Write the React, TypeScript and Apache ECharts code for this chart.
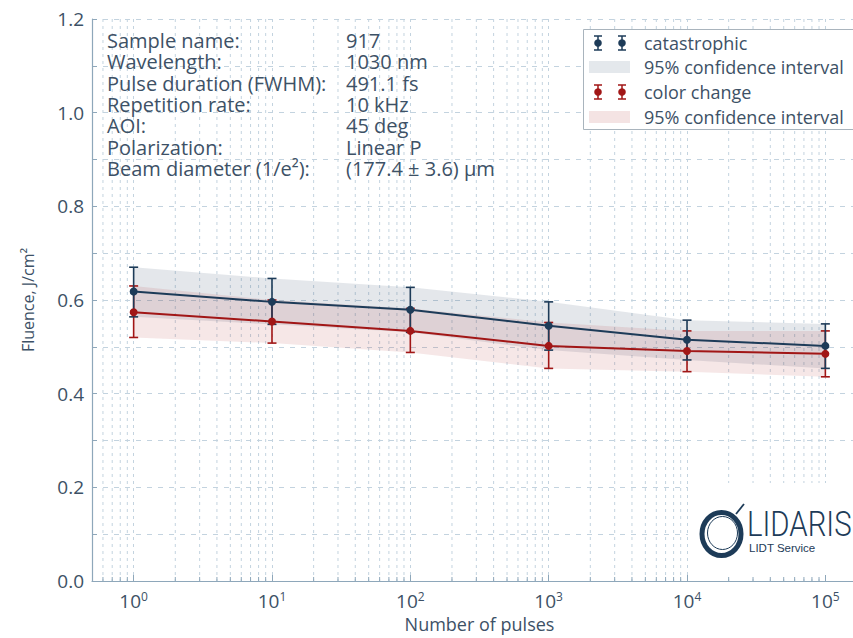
import React, { useEffect, useRef } from "react";
import * as echarts from "echarts";

// ---- data ----
const pulses = [1, 10, 100, 1000, 10000, 100000];
const catMean = [0.618, 0.596, 0.579, 0.545, 0.515, 0.502];
const catLow = [0.564, 0.548, 0.531, 0.493, 0.472, 0.454];
const catHigh = [0.670, 0.646, 0.627, 0.596, 0.557, 0.549];
const colMean = [0.574, 0.554, 0.534, 0.502, 0.491, 0.485];
const colLow = [0.520, 0.508, 0.488, 0.454, 0.447, 0.436];
const colHigh = [0.630, 0.600, 0.582, 0.552, 0.534, 0.534];
const minorXTicks = [
  0.6, 0.7, 0.8, 0.9,
  2, 3, 4, 5, 6, 7, 8, 9,
  20, 30, 40, 50, 60, 70, 80, 90,
  200, 300, 400, 500, 600, 700, 800, 900,
  2000, 3000, 4000, 5000, 6000, 7000, 8000, 9000,
  20000, 30000, 40000, 50000, 60000, 70000, 80000, 90000,
];
const infoLabels = [
  "Sample name:",
  "Wavelength:",
  "Pulse duration (FWHM):",
  "Repetition rate:",
  "AOI:",
  "Polarization:",
  "Beam diameter (1/e²):",
];
const infoValues = ["917", "1030 nm", "491.1 fs", "10 kHz", "45 deg", "Linear P", "(177.4 ± 3.6) µm"];
const legendLabels = ["catastrophic", "95% confidence interval", "color change", "95% confidence interval"];

const NAVY = "#1d3b58";
const RED = "#a11616";
const TEXT = "#3d5166";
const AXIS = "#8ea7ba";
const GRID = "#c3d3df";
const FONT = "'Open Sans', 'DejaVu Sans', sans-serif";

function errRender(color: string) {
  return (params: any, api: any) => {
    const x = api.value(0);
    const lo = api.coord([x, api.value(1)]);
    const hi = api.coord([x, api.value(2)]);
    const cw = 4.5;
    const st = { stroke: color, lineWidth: 1.6 };
    return {
      type: "group",
      children: [
        { type: "line", shape: { x1: lo[0], y1: lo[1], x2: hi[0], y2: hi[1] }, style: st },
        { type: "line", shape: { x1: lo[0] - cw, y1: lo[1], x2: lo[0] + cw, y2: lo[1] }, style: st },
        { type: "line", shape: { x1: hi[0] - cw, y1: hi[1], x2: hi[0] + cw, y2: hi[1] }, style: st },
      ],
    };
  };
}

function bandRender(color: string) {
  return (params: any, api: any) => {
    if (params.dataIndexInside !== 0) return { type: "group", children: [] };
    const n = params.dataInsideLength;
    const top: number[][] = [];
    const bot: number[][] = [];
    for (let j = 0; j < n; j++) {
      const x = api.value(0, j);
      top.push(api.coord([x, api.value(2, j)]));
      bot.push(api.coord([x, api.value(1, j)]));
    }
    return {
      type: "polygon",
      shape: { points: top.concat(bot.reverse()) },
      style: { fill: color },
    };
  };
}

function legendGlyph(cx: number, cy: number, color: string) {
  const st = { stroke: color, lineWidth: 1.5 };
  return [
    { type: "line", z: 101, shape: { x1: cx, y1: cy - 7, x2: cx, y2: cy + 7 }, style: st },
    { type: "line", z: 101, shape: { x1: cx - 4, y1: cy - 7, x2: cx + 4, y2: cy - 7 }, style: st },
    { type: "line", z: 101, shape: { x1: cx - 4, y1: cy + 7, x2: cx + 4, y2: cy + 7 }, style: st },
    { type: "circle", z: 102, shape: { cx, cy, r: 3.8 }, style: { fill: color } },
  ];
}

export default function App() {
  const ref = useRef<HTMLDivElement>(null);
  useEffect(() => {
    if (!ref.current) return;
    const chart = echarts.init(ref.current, undefined, { renderer: "svg" });

    const graphics: any[] = [];
    graphics.push({
      type: "text", z: 100, x: 107, y: 29.5,
      style: { text: infoLabels.join("\n"), fill: TEXT, font: `20px ${FONT}`, lineHeight: 21.4, textVerticalAlign: "top" },
    });
    graphics.push({
      type: "text", z: 100, x: 346, y: 29.5,
      style: { text: infoValues.join("\n"), fill: TEXT, font: `20px ${FONT}`, lineHeight: 21.4, textVerticalAlign: "top" },
    });
    // legend
    graphics.push({
      type: "rect", z: 100, shape: { x: 583.5, y: 29.5, width: 280, height: 100 },
      style: { fill: "#ffffff", stroke: "#a9b4bd", lineWidth: 1 },
    });
    const rowsY = [43, 67, 92, 117];
    graphics.push(...legendGlyph(598, rowsY[0], NAVY), ...legendGlyph(622, rowsY[0], NAVY));
    graphics.push(...legendGlyph(598, rowsY[2], RED), ...legendGlyph(622, rowsY[2], RED));
    graphics.push({ type: "rect", z: 101, shape: { x: 589, y: rowsY[1] - 6, width: 41, height: 12 }, style: { fill: "#e4e8ec" } });
    graphics.push({ type: "rect", z: 101, shape: { x: 589, y: rowsY[3] - 6, width: 41, height: 12 }, style: { fill: "#f4e3e3" } });
    legendLabels.forEach((t, i) => {
      graphics.push({
        type: "text", z: 101, x: 644, y: rowsY[i],
        style: { text: t, fill: TEXT, font: `18px ${FONT}`, lineHeight: 22, textVerticalAlign: "middle" },
      });
    });
    // logo
    graphics.push({ type: "rect", z: 100, shape: { x: 688, y: 483, width: 180, height: 92 }, style: { fill: "#ffffff" } });
    graphics.push({ type: "ellipse", z: 101, shape: { cx: 721.5, cy: 534, rx: 19.5, ry: 21.5 }, style: { fill: "none", stroke: NAVY, lineWidth: 5 } });
    graphics.push({ type: "ellipse", z: 101, shape: { cx: 722.5, cy: 533, rx: 15, ry: 16.5 }, style: { fill: "none", stroke: NAVY, lineWidth: 1 } });
    graphics.push({ type: "line", z: 101, shape: { x1: 736, y1: 514, x2: 744, y2: 504 }, style: { stroke: NAVY, lineWidth: 1.8 } });
    graphics.push({
      type: "text", z: 101, x: 747, y: 539, scaleX: 0.84,
      style: { text: "LIDARIS", fill: NAVY, font: `300 35px Roboto, 'Liberation Sans', sans-serif`, lineHeight: 30, textVerticalAlign: "bottom" },
    });
    graphics.push({
      type: "text", z: 101, x: 749, y: 554,
      style: { text: "LIDT Service", fill: NAVY, font: `11.5px 'Liberation Sans', Roboto, sans-serif`, lineHeight: 13, textVerticalAlign: "bottom" },
    });

    chart.setOption({
      animation: false,
      backgroundColor: "#ffffff",
      textStyle: { fontFamily: FONT },
      grid: { left: 92, right: -14, top: 19, bottom: 57, outerBoundsMode: "none", containLabel: false },
      xAxis: {
        type: "log",
        logBase: 10,
        min: 0.5,
        max: 200000,
        name: "Number of pulses",
        nameLocation: "middle",
        nameMoveOverlap: false,
        nameGap: 34,
        nameTextStyle: { color: TEXT, fontSize: 18, fontFamily: FONT },
        axisLine: { lineStyle: { color: AXIS, width: 1.2 } },
        axisTick: { inside: true, length: 6, lineStyle: { color: AXIS } },
        splitLine: { show: true, lineStyle: { color: GRID, type: [3, 4], width: 1 } },
        axisLabel: {
          margin: 9,
          showMinLabel: false,
          showMaxLabel: false,
          formatter: (v: number) => {
            const l = Math.log10(v);
            const e = Math.round(l);
            if (Math.abs(l - e) > 1e-6) return "";
            return `{b|10}{s|${e}}`;
          },
          rich: {
            b: { fontSize: 19, color: TEXT, fontFamily: FONT, lineHeight: 20, verticalAlign: "bottom" },
            s: { fontSize: 12, color: TEXT, fontFamily: FONT, lineHeight: 20, verticalAlign: "top" },
          },
        },
      },
      yAxis: {
        type: "value",
        min: 0,
        max: 1.2,
        interval: 0.2,
        name: "Fluence, J/cm²",
        nameLocation: "middle",
        nameGap: 56,
        nameTextStyle: { color: TEXT, fontSize: 16, fontFamily: FONT },
        axisLine: { show: true, lineStyle: { color: AXIS, width: 1.2 } },
        axisTick: { show: true, inside: true, length: 5, lineStyle: { color: AXIS } },
        minorTick: { show: true, splitNumber: 2, length: 5, lineStyle: { color: AXIS } },
        splitLine: { show: true, lineStyle: { color: GRID, type: [5, 6], width: 1 } },
        minorSplitLine: { show: true, lineStyle: { color: GRID, type: [5, 6], width: 1 } },
        axisLabel: {
          color: TEXT, fontSize: 19, fontFamily: FONT, margin: 8,
          formatter: (v: number) => v.toFixed(1),
        },
      },
      graphic: graphics,
      series: [
        {
          type: "custom",
          name: "minorGrid",
          silent: true,
          z: 1,
          data: minorXTicks.map((v) => [v]),
          encode: { x: 0 },
          renderItem: (params: any, api: any) => {
            const x = api.value(0);
            const top = api.coord([x, 1.2]);
            const bot = api.coord([x, 0]);
            return {
              type: "group",
              children: [
                { type: "line", shape: { x1: top[0], y1: top[1], x2: bot[0], y2: bot[1] }, style: { stroke: GRID, lineWidth: 1, lineDash: [3, 4] } },
                { type: "line", shape: { x1: bot[0], y1: bot[1], x2: bot[0], y2: bot[1] - 4 }, style: { stroke: AXIS, lineWidth: 1 } },
              ],
            };
          },
        },
        {
          type: "custom", name: "catBand", z: 2, silent: true,
          data: pulses.map((x, i) => [x, catLow[i], catHigh[i]]),
          encode: { x: 0, y: [1, 2] },
          renderItem: bandRender("rgba(29,59,88,0.12)"),
        },
        {
          type: "custom", name: "colBand", z: 2, silent: true,
          data: pulses.map((x, i) => [x, colLow[i], colHigh[i]]),
          encode: { x: 0, y: [1, 2] },
          renderItem: bandRender("rgba(170,40,40,0.11)"),
        },
        {
          type: "custom", name: "colErr", z: 3, silent: true,
          data: pulses.map((x, i) => [x, colLow[i], colHigh[i]]),
          encode: { x: 0, y: [1, 2] },
          renderItem: errRender(RED),
        },
        {
          type: "custom", name: "catErr", z: 3, silent: true,
          data: pulses.map((x, i) => [x, catLow[i], catHigh[i]]),
          encode: { x: 0, y: [1, 2] },
          renderItem: errRender(NAVY),
        },
        {
          type: "line", name: "catastrophic", z: 4,
          data: pulses.map((x, i) => [x, catMean[i]]),
          lineStyle: { color: NAVY, width: 2 },
          itemStyle: { color: NAVY },
          symbol: "circle", symbolSize: 8,
        },
        {
          type: "line", name: "color change", z: 4,
          data: pulses.map((x, i) => [x, colMean[i]]),
          lineStyle: { color: RED, width: 2 },
          itemStyle: { color: RED },
          symbol: "circle", symbolSize: 8,
        },
      ],
    });
    return () => chart.dispose();
  }, []);
  return <div ref={ref} style={{ width: 853, height: 638, position: "absolute", left: 0, top: 0 }} />;
}
